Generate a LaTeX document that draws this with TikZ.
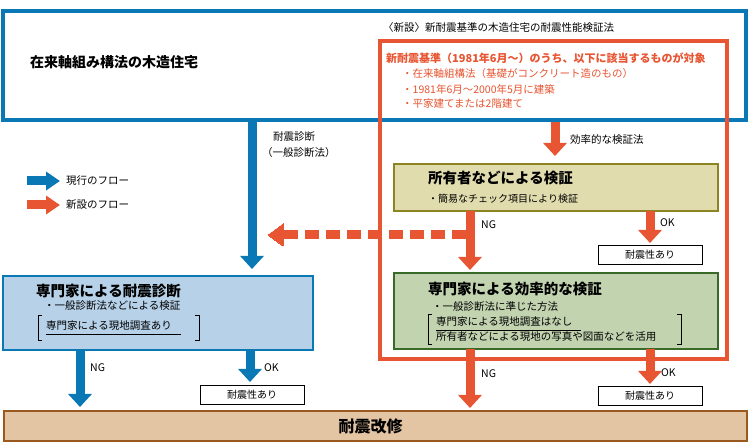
\documentclass[tikz,border=0pt]{standalone}
\usepackage{fontspec}
\setmainfont{Noto Sans CJK JP}
\usetikzlibrary{arrows.meta}
\definecolor{bl}{HTML}{0A78B4}
\definecolor{rd}{HTML}{E85532}
\definecolor{yf}{HTML}{E0DCAE}
\definecolor{yb}{HTML}{8C8420}
\definecolor{gf}{HTML}{C2D3B0}
\definecolor{gb}{HTML}{3A6A28}
\definecolor{bf}{HTML}{B6D1E8}
\definecolor{of}{HTML}{E3C5A3}
\definecolor{ob}{HTML}{9A5A1F}
\begin{document}
\begin{tikzpicture}[x=1pt,y=-1pt,
  barr/.style={line width=9pt,draw=bl,-{Triangle[width=23pt,length=13pt]}},
  rarr/.style={line width=9pt,draw=rd,-{Triangle[width=23pt,length=13pt]}},
  txt/.style={inner sep=0,anchor=west,font=\fontsize{10.5}{12}\selectfont},
  ttl/.style={inner sep=0,anchor=west,font=\fontsize{14.5}{16}\selectfont\bfseries},
  okbox/.style={draw=black,line width=1pt,fill=white,minimum width=104pt,minimum height=19pt,inner sep=0,font=\fontsize{10}{12}\selectfont}]
\useasboundingbox (0,0) rectangle (750,443);
\fill[white] (0,0) rectangle (750,443);
% top blue box
\draw[bl,line width=4pt] (3,11) rectangle (746,120);
\node[ttl,font=\fontsize{14}{16}\selectfont\bfseries] (house) at (30,62) {在来軸組み構法の木造住宅};
\node[txt] (cap) at (383,28) {〈新設〉新耐震基準の木造住宅の耐震性能検証法};
% red box
\draw[rd,line width=4pt] (380,41) rectangle (727,359);
\node[txt,text=rd,font=\fontsize{11}{13}\selectfont\bfseries] (rt) at (386,58) {新耐震基準（1981年6月～）のうち、以下に該当するものが対象};
\node[txt,text=rd] (r1) at (402,74) {・在来軸組構法（基礎がコンクリート造のもの）};
\node[txt,text=rd] (r2) at (402,89) {・1981年6月～2000年5月に建築};
\node[txt,text=rd] (r3) at (402,104) {・平家建てまたは2階建て};
\coordinate (a1) at (555,122);
\coordinate (a2) at (555,156);
\draw[rarr] (a1) -- (a2);
\node[txt] (eff) at (570,140) {効率的な検証法};
% yellow box
\node[draw=yb,fill=yf,line width=2pt,minimum width=324pt,minimum height=47pt,anchor=north west,inner sep=0] (own) at (393,163) {};
\node[ttl] (ownt) at (428,178) {所有者などによる検証};
\node[txt,font=\fontsize{10}{12}\selectfont] (owns) at (428,199) {・簡易なチェック項目により検証};
% green box
\node[draw=gb,fill=gf,line width=2pt,minimum width=324pt,minimum height=76pt,anchor=north west,inner sep=0] (eff2) at (393,272) {};
\node[ttl] (eff2t) at (428,289) {専門家による効率的な検証};
\node[txt] (g1) at (432,307) {・一般診断法に準じた方法};
\node[txt] (g2) at (436,322) {専門家による現地調査はなし};
\draw[line width=0.6pt] (436,330) -- (581,330);
\node[txt] (g3) at (436,337) {所有者などによる現地の写真や図面などを活用};
\draw[line width=0.8pt] (432,314) -- (428,314) -- (428,344) -- (432,344);
\draw[line width=0.8pt] (677,314) -- (681,314) -- (681,344) -- (677,344);
% arrows from yellow
\coordinate (n1a) at (470,211);
\coordinate (n1b) at (470,270);
\draw[rarr] (n1a) -- (n1b);
\node[txt] (ng1) at (481,225) {NG};
\coordinate (o1a) at (650,211);
\coordinate (o1b) at (650,243);
\draw[rarr] (o1a) -- (o1b);
\node[txt] (ok1) at (660,223) {OK};
\node[okbox] (res1) at (650,255) {耐震性あり};
% dashed arrow
\coordinate (d1) at (466,235);
\coordinate (d2) at (268,235);
\draw[line width=9pt,draw=rd,dash pattern=on 14pt off 7pt] (d1) -- (284,235);
\draw[rd,line width=0pt,fill=rd] (268,235) -- (283,224) -- (283,246) -- cycle;
% arrows from green
\coordinate (n2a) at (470,349);
\coordinate (n2b) at (470,408);
\draw[rarr] (n2a) -- (n2b);
\node[txt] (ng2) at (481,374) {NG};
\coordinate (o2a) at (650,349);
\coordinate (o2b) at (650,384);
\draw[rarr] (o2a) -- (o2b);
\node[txt] (ok2) at (661,373) {OK};
\node[okbox] (res2) at (650,396) {耐震性あり};
% blue main arrow
\coordinate (b1) at (252,122);
\coordinate (b2) at (252,269);
\draw[barr] (b1) -- (b2);
\node[txt] (diag1) at (273,137) {耐震診断};
\node[txt] (diag2) at (262,153) {（一般診断法）};
% legend
\coordinate (l1) at (27,181);
\coordinate (l2) at (60,181);
\draw[barr,-{Triangle[width=18pt,length=14pt]}] (l1) -- (l2);
\node[txt] (lt1) at (66,181) {現行のフロー};
\coordinate (l3) at (27,205);
\coordinate (l4) at (60,205);
\draw[rarr,-{Triangle[width=18pt,length=14pt]}] (l3) -- (l4);
\node[txt] (lt2) at (66,205) {新設のフロー};
% blue box
\node[draw=bl,fill=bf,line width=2pt,minimum width=310pt,minimum height=74pt,anchor=north west,inner sep=0] (exp) at (2,275) {};
\node[ttl] (expt) at (36,291) {専門家による耐震診断};
\node[txt] (e1) at (44,306) {・一般診断法などによる検証};
\node[txt] (e2) at (46,326) {専門家による現地調査あり};
\draw[line width=0.6pt] (46,334) -- (181,334);
\draw[line width=0.8pt] (42,315) -- (38,315) -- (38,340) -- (42,340);
\draw[line width=0.8pt] (195,315) -- (199,315) -- (199,340) -- (195,340);
\coordinate (n3a) at (80,350);
\coordinate (n3b) at (80,407);
\draw[barr] (n3a) -- (n3b);
\node[txt] (ng3) at (90,368) {NG};
\coordinate (o3a) at (250,350);
\coordinate (o3b) at (250,382);
\draw[barr] (o3a) -- (o3b);
\node[txt] (ok3) at (264,368) {OK};
\node[okbox] (res3) at (252,395) {耐震性あり};
% bottom box
\node[draw=ob,fill=of,line width=2pt,minimum width=743pt,minimum height=30pt,anchor=north west,inner sep=0,font=\fontsize{16}{18}\selectfont\bfseries] (ret) at (3,410) {\hspace*{-10pt}耐震改修};
\end{tikzpicture}
\end{document}
